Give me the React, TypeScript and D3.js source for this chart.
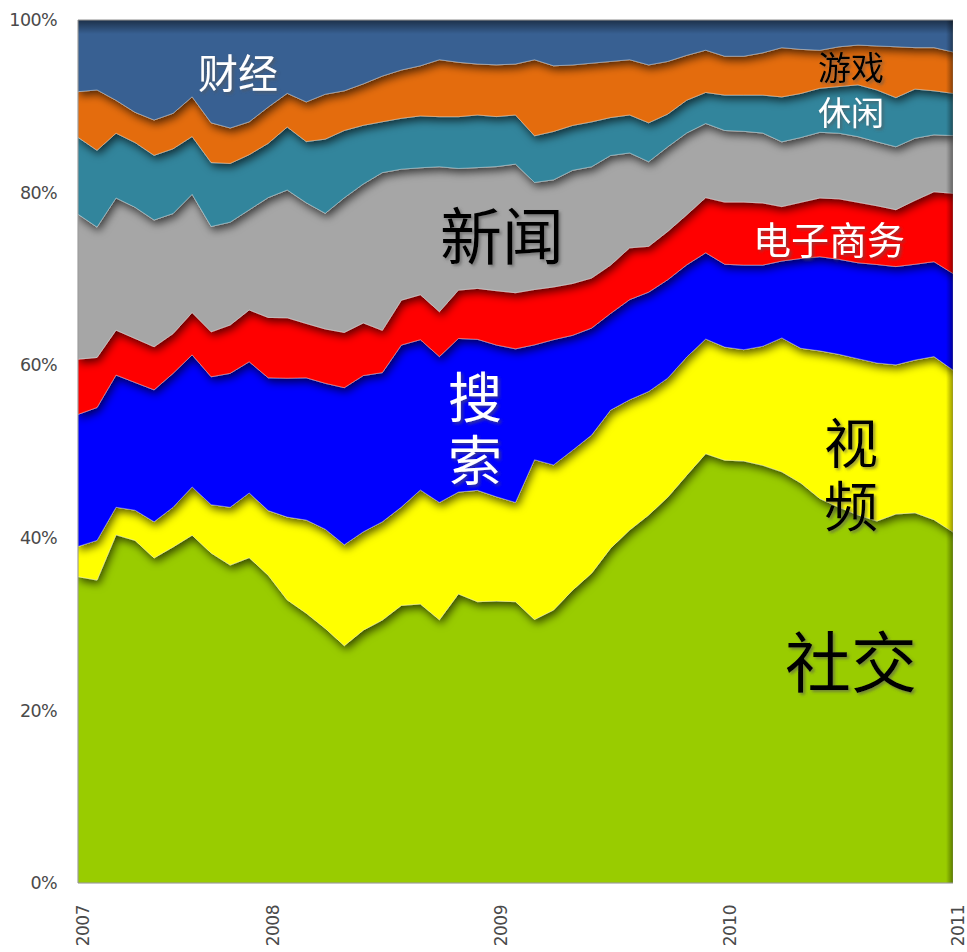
import React from 'react';
import * as d3 from 'd3';

// ---- data (share of each category, %) ----
const years = ['2007', '2008', '2009', '2010', '2011'];
const yearIndex = [0, 10, 22, 34, 46];
const yTickValues = [0, 0.2, 0.4, 0.6, 0.8, 1];

const social = [35.5, 35.1, 40.3, 39.7, 37.7, 38.9, 40.3, 38.2, 36.8, 37.7, 35.7, 32.8, 31.3, 29.5, 27.5, 29.3, 30.5, 32.2, 32.3, 30.5, 33.5, 32.6, 32.7, 32.6, 30.5, 31.6, 33.9, 35.9, 38.8, 40.9, 42.6, 44.7, 47.3, 49.8, 49.0, 48.9, 48.4, 47.6, 46.3, 44.5, 43.5, 42.6, 41.9, 42.8, 42.9, 42.1, 40.7];
const video = [3.5, 4.6, 3.2, 3.5, 4.2, 4.6, 5.6, 5.6, 6.7, 7.5, 7.5, 9.6, 10.8, 11.5, 11.7, 11.4, 11.4, 11.4, 13.2, 13.6, 11.8, 12.9, 12.1, 11.5, 18.5, 16.8, 16.2, 16.0, 16.0, 15.1, 14.3, 13.8, 13.7, 13.3, 13.1, 12.9, 13.8, 15.5, 15.6, 17.1, 17.7, 18.1, 18.3, 17.3, 17.7, 18.9, 18.8];
const search = [15.3, 15.4, 15.3, 14.8, 15.3, 15.5, 15.3, 14.8, 15.5, 15.2, 15.4, 16.1, 16.5, 16.9, 18.2, 18.1, 17.3, 18.8, 17.4, 16.9, 17.8, 17.5, 17.6, 17.8, 13.3, 14.5, 13.3, 12.4, 11.2, 11.6, 11.5, 11.4, 10.7, 10.0, 9.6, 9.8, 9.4, 8.9, 10.4, 10.9, 11.0, 11.1, 11.4, 11.4, 11.1, 11.0, 11.2];
const ecommerce = [6.4, 5.8, 5.2, 5.1, 5.0, 4.6, 4.9, 5.2, 5.6, 6.0, 7.0, 7.0, 6.3, 6.3, 6.4, 6.1, 4.9, 5.2, 5.2, 5.2, 5.6, 5.9, 6.3, 6.5, 6.4, 6.1, 6.0, 5.8, 5.6, 6.0, 5.3, 5.6, 5.8, 6.4, 7.2, 7.3, 7.2, 6.3, 6.5, 6.8, 7.0, 7.0, 6.8, 6.6, 7.4, 8.1, 9.3];
const news = [16.8, 15.1, 15.3, 15.2, 14.7, 13.9, 13.7, 12.2, 11.9, 11.6, 13.9, 14.8, 14.0, 13.4, 15.6, 16.1, 18.3, 15.2, 14.7, 16.8, 14.1, 14.0, 14.4, 14.9, 12.4, 12.4, 13.1, 12.9, 12.7, 11.0, 9.8, 9.8, 9.5, 8.6, 8.3, 8.2, 8.1, 7.5, 7.5, 7.6, 7.6, 7.6, 7.4, 7.3, 7.2, 6.6, 6.7];
const leisure = [8.9, 8.9, 7.5, 7.5, 7.5, 7.5, 6.7, 7.4, 6.8, 6.4, 6.3, 7.3, 7.1, 8.6, 7.8, 6.8, 5.9, 5.9, 6.0, 5.8, 6.0, 6.1, 5.8, 5.7, 5.4, 5.6, 5.2, 5.2, 4.4, 4.4, 4.5, 3.8, 3.8, 3.6, 4.1, 4.2, 4.4, 5.2, 5.1, 5.1, 5.4, 6.0, 6.0, 5.7, 5.7, 5.1, 4.9];
const games = [5.3, 7.0, 3.8, 3.5, 4.1, 4.1, 4.6, 4.6, 4.1, 3.8, 4.2, 3.9, 4.6, 5.2, 4.6, 4.8, 5.3, 5.6, 5.8, 6.6, 6.3, 5.9, 6.0, 5.9, 8.8, 7.6, 7.0, 6.8, 6.5, 6.4, 6.7, 6.1, 5.2, 4.9, 4.5, 4.5, 4.9, 5.7, 5.1, 4.4, 4.6, 4.6, 5.1, 5.9, 4.8, 5.0, 4.8];
const finance = [8.3, 8.1, 9.3, 10.7, 11.6, 10.8, 8.9, 11.9, 12.5, 11.8, 10.1, 8.5, 9.5, 8.6, 8.2, 7.4, 6.5, 5.8, 5.3, 4.6, 4.9, 5.1, 5.2, 5.1, 4.6, 5.3, 5.2, 5.0, 4.8, 4.6, 5.2, 4.8, 4.1, 3.5, 4.2, 4.2, 3.8, 3.2, 3.4, 3.5, 3.1, 2.9, 3.0, 3.1, 3.2, 3.2, 3.7];

const seriesNames = ['社交', '视频', '搜索', '电子商务', '新闻', '休闲', '游戏', '财经'];
const seriesData = [social, video, search, ecommerce, news, leisure, games, finance];
const seriesColors = ['#99CC00', '#FFFF00', '#0000FF', '#FF0000', '#A6A6A6', '#31859C', '#E46C0A', '#376092'];

// label placement (layout, not data)
const labelLayout: { [k: string]: { x: number; y: number; size: number; color: string; vertical?: boolean } } = {
  '财经': { x: 238, y: 74, size: 40, color: '#ffffff' },
  '游戏': { x: 851, y: 68, size: 33, color: '#000000' },
  '休闲': { x: 851, y: 113, size: 33, color: '#ffffff' },
  '新闻': { x: 502, y: 238, size: 62, color: '#000000' },
  '电子商务': { x: 829, y: 240, size: 38, color: '#ffffff' },
  '搜索': { x: 475, y: 429, size: 54, color: '#ffffff', vertical: true },
  '视频': { x: 851, y: 475, size: 54, color: '#000000', vertical: true },
  '社交': { x: 851, y: 663, size: 66, color: '#000000' },
};

const W = 967;
const H = 952;
const L = 78;
const R = 953;
const T = 20;
const B = 883;

export default function App() {
  const n = social.length;
  const x = d3.scaleLinear().domain([0, n - 1]).range([L, R]);
  const y = d3.scaleLinear().domain([0, 1]).range([B, T]);

  const keys = seriesNames.map((_, k) => 'k' + k);
  const rows = d3.range(n).map((i) => {
    const r: any = { i };
    seriesData.forEach((s, k) => (r['k' + k] = s[i]));
    return r;
  });
  const layers = d3.stack<any>().keys(keys).offset(d3.stackOffsetExpand)(rows);
  const area = d3
    .area<any>()
    .x((d) => x(d.data.i))
    .y0((d) => y(d[0]))
    .y1((d) => y(d[1]))
    .curve(d3.curveLinear);

  const axisFont = "'DejaVu Sans', sans-serif";
  const cjk = "'Noto Sans CJK SC', sans-serif";

  return (
    <svg width={W} height={H} style={{ position: 'absolute', left: 0, top: 0, background: '#fff' }}>
      <defs>
        <clipPath id="plotClip">
          <rect x={L} y={T} width={R - L} height={B - T} />
        </clipPath>
        <filter id="layerShadow" x="-5%" y="-5%" width="110%" height="120%">
          <feDropShadow dx="2" dy="4" stdDeviation="4" floodColor="#000" floodOpacity="0.65" />
        </filter>
        <filter id="textShadow" x="-20%" y="-20%" width="140%" height="140%">
          <feDropShadow dx="2" dy="2" stdDeviation="1.5" floodColor="#555" floodOpacity="0.6" />
        </filter>
        <linearGradient id="topShade" x1="0" y1="0" x2="0" y2="1">
          <stop offset="0" stopColor="#000" stopOpacity="0.5" />
          <stop offset="1" stopColor="#000" stopOpacity="0" />
        </linearGradient>
        <linearGradient id="rightShade" x1="0" y1="0" x2="1" y2="0">
          <stop offset="0" stopColor="#000" stopOpacity="0" />
          <stop offset="1" stopColor="#000" stopOpacity="0.4" />
        </linearGradient>
      </defs>

      <g clipPath="url(#plotClip)">
        {layers.map((layer, k) => (
          <path
            key={k}
            d={area(layer as any) || ''}
            fill={seriesColors[k]}
            stroke="rgba(255,255,255,0.45)"
            strokeWidth={0.7}
            filter="url(#layerShadow)"
          />
        ))}
        <rect x={L} y={T} width={R - L} height={14} fill="url(#topShade)" />
        <rect x={R - 7} y={T} width={7} height={B - T} fill="url(#rightShade)" />
      </g>

      {/* frame */}
      <line x1={L} y1={T} x2={R} y2={T} stroke="#8c8c8c" strokeWidth={1} />
      <line x1={L} y1={T} x2={L} y2={B} stroke="#8c8c8c" strokeWidth={1} />
      <line x1={L} y1={B} x2={R} y2={B} stroke="#8c8c8c" strokeWidth={1} />

      {/* y axis labels */}
      {yTickValues.map((v) => (
        <text
          key={v}
          x={57}
          y={y(v)}
          dy="0.35em"
          textAnchor="end"
          fontFamily={axisFont}
          fontSize={17.5}
          fill="#4a4a4a"
          letterSpacing={-0.6}
        >
          {d3.format('.0%')(v)}
        </text>
      ))}

      {/* x axis labels */}
      {years.map((yr, j) => (
        <text
          key={yr}
          transform={`translate(${x(yearIndex[j]) + 5},905) rotate(-90)`}
          dy="0.35em"
          textAnchor="end"
          fontFamily={axisFont}
          fontSize={17}
          fill="#4a4a4a"
          letterSpacing={-0.5}
        >
          {yr}
        </text>
      ))}

      {/* category labels */}
      {seriesNames.map((name) => {
        const c = labelLayout[name];
        if (c.vertical) {
          const gap = c.size * 0.18;
          return (
            <text
              key={name}
              x={c.x}
              y={c.y + gap / 2}
              fontFamily={cjk}
              fontSize={c.size}
              fill={c.color}
              textAnchor="middle"
              letterSpacing={gap}
              filter="url(#textShadow)"
              style={{ writingMode: 'vertical-rl' } as any}
            >
              {name}
            </text>
          );
        }
        return (
          <text
            key={name}
            x={c.x}
            y={c.y}
            dy="0.36em"
            fontFamily={cjk}
            fontSize={c.size}
            fill={c.color}
            textAnchor="middle"
            filter="url(#textShadow)"
          >
            {name}
          </text>
        );
      })}
    </svg>
  );
}
